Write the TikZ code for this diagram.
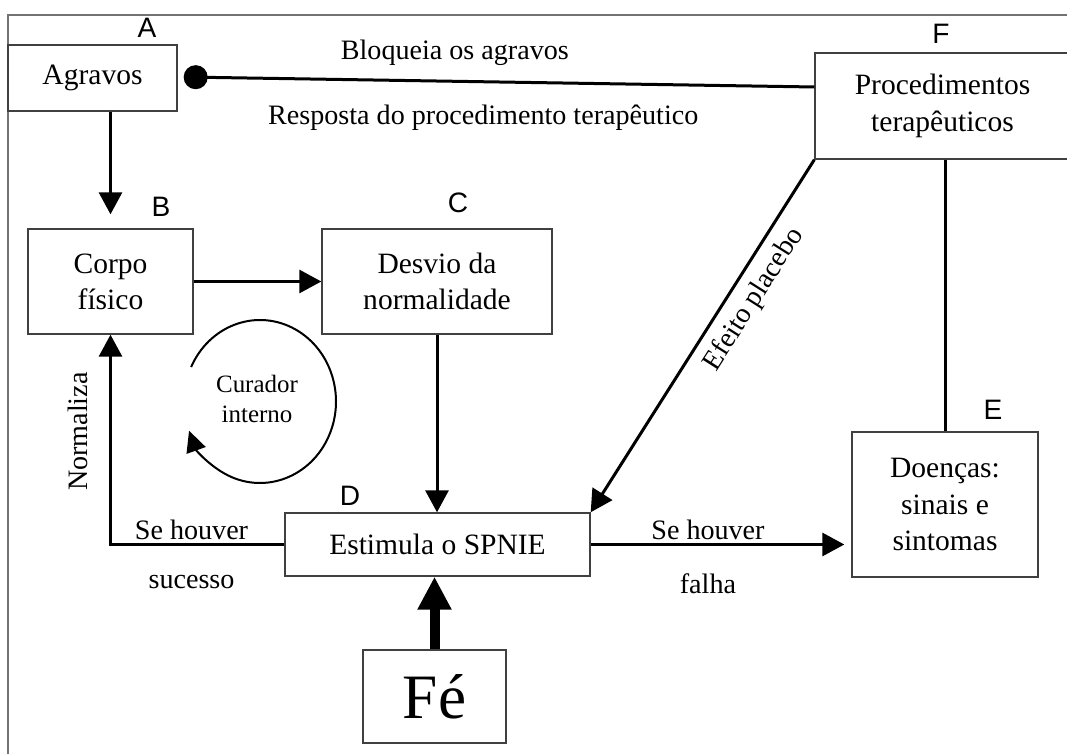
\documentclass[tikz,border=0pt]{standalone}
\usepackage{fontspec}
\setmainfont{Liberation Serif}
\newfontfamily\letrafonte{Liberation Sans}
\usetikzlibrary{arrows.meta}
\tikzset{
  caixa/.style={draw=black!75, line width=0.8pt, align=center, font=\fontsize{16.8}{20.6}\selectfont},
  letra/.style={font=\letrafonte\fontsize{16}{18}\selectfont},
  rotulo/.style={font=\fontsize{16}{19}\selectfont, inner sep=2pt},
  seta/.style={-{Triangle[length=0.44cm,width=0.46cm]}, line width=0.06cm},
  setainv/.style={{Triangle[length=0.44cm,width=0.46cm]}-, line width=0.06cm},
  linha/.style={line width=0.06cm},
}
\begin{document}
\begin{tikzpicture}[x=0.02cm, y=0.02cm]
\useasboundingbox (0,0) rectangle (1067,754);
\draw[black!55, line width=1.1pt] (8,0) -- (8,739) -- (1067,739);

\node (agr)   at (92.5,676)   [caixa, minimum width=3.38cm, minimum height=1.32cm] {Agravos};
\node (corpo) at (110.5,472.5) [caixa, minimum width=3.3cm, minimum height=2.1cm] {Corpo\\físico};
\node (desv)  at (437,472.5)   [caixa, minimum width=4.6cm, minimum height=2.1cm] {Desvio da\\normalidade};
\node (estim) at (437.5,209.5) [caixa, minimum width=6.1cm, minimum height=1.26cm] {Estimula o SPNIE};
\node (fe)    at (434.5,57.5)  [caixa, minimum width=2.86cm, minimum height=1.86cm, font=\fontsize{36}{40}\selectfont] {Fé};
\node (doen)  at (945,249.5)   [caixa, minimum width=3.72cm, minimum height=2.9cm] {Doenças:\\sinais e\\sintomas};
\node (proc)  at (942.5,648)   [caixa, minimum width=5.1cm, minimum height=2.12cm] {Procedimentos\\terapêuticos};

\node (la) at (147,726) [letra] {A};
\node (lb) at (161,547) [letra] {B};
\node (lc) at (458,551) [letra] {C};
\node (ld) at (350,258) [letra] {D};
\node (le) at (993,344) [letra] {E};
\node (lf) at (941,720) [letra] {F};

\node (cur) at (257,355) [font=\fontsize{14.2}{17.5}\selectfont, align=center] {Curador\\interno};
\draw[line width=0.04cm, -{Triangle[length=0.42cm,width=0.4cm]}]
  ([shift={(155:1.52cm and 1.63cm)}]cur.center) ++(0.06cm,-0.05cm) arc[start angle=155, end angle=-159, x radius=1.52cm, y radius=1.63cm];

\draw[linha, {Circle[length=0.48cm]}-] ([shift={(6,1)}]agr.east) --
  node[rotulo, pos=0.43, above=0.21cm] {Bloqueia os agravos}
  node[rotulo, pos=0.475, below=0.37cm] {Resposta do procedimento terapêutico}
  ([shift={(0,19)}]proc.west);
\draw[seta, shorten >=0.28cm] (agr.south -| corpo.north) -- (corpo.north);
\draw[seta] (corpo.east) -- (desv.west |- corpo.east);
\draw[seta] (desv.south) -- (desv.south |- estim.north);
\draw[seta] (estim.west) -| node[rotulo, pos=0.267, above=0pt] {Se houver}
  node[rotulo, pos=0.267, below=0.52cm] {sucesso}
  node[rotulo, pos=0.769, sloped, above=0.35cm] {Normaliza} (corpo.south);
\draw[seta, shorten >=0.14cm] (estim.east) -- node[rotulo, pos=0.45, above=0pt] {Se houver}
  node[rotulo, pos=0.45, below=0.49cm] {falha} (doen.west |- estim.east);
\draw[setainv] (estim.north east) -- node[rotulo, pos=0.64, sloped, below=0.12cm] {Efeito placebo} (proc.south west);
\draw[linha] (proc.south -| doen.north) -- (doen.north);
\draw[line width=0.2cm, -{Triangle[length=0.66cm,width=0.64cm]}] (fe.north) -- (fe.north |- estim.south);
\end{tikzpicture}
\end{document}
